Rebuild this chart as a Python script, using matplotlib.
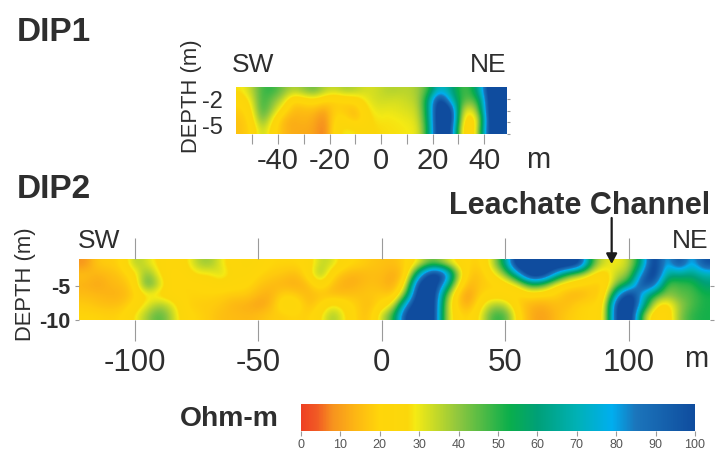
import numpy as np
import matplotlib
matplotlib.use("Agg")
import matplotlib.pyplot as plt
from matplotlib.colors import LinearSegmentedColormap, Normalize
from matplotlib.cm import ScalarMappable

plt.rcParams['font.family'] = ['Liberation Sans', 'DejaVu Sans']
W, H = 715, 454
INK = '#2e2e2e'
GRAY = '#9a9a9a'

# Colour scale
scale_values = [0, 4, 8, 14, 20, 27, 29, 40, 53, 60, 70, 79, 85, 100]
scale_colors = ['#ee4023', '#f15a24', '#f7931e', '#fdb813', '#ffd60a', '#fbd70b', '#f5ea14', '#8dc63f',
                '#0aae4c', '#00a077', '#00b1b5', '#00aeef', '#1b75bb', '#0f4c9e']

# DIP1 resistivity, one list per depth row, columns from -54 m to 46 m every 4 m
dip1_r0 = [28, 35, 48, 50, 42, 36, 40, 45, 36, 34, 38, 36, 32, 33, 36, 36, 35, 38, 48, 75, 65, 48, 48, 70, 120, 120]
dip1_r1 = [22, 30, 50, 42, 34, 18, 22, 24, 20, 18, 20, 22, 30, 33, 33, 32, 34, 36, 60, 115, 75, 50, 42, 55, 120, 120]
dip1_r2 = [18, 26, 50, 38, 24, 14, 15, 15, 10, 20, 17, 14, 26, 31, 30, 31, 32, 34, 60, 120, 115, 40, 26, 50, 120, 120]
dip1_r3 = [16, 22, 45, 28, 14, 12, 14, 12, 6, 22, 22, 14, 24, 29, 28, 29, 30, 32, 58, 120, 120, 35, 18, 38, 120, 120]
dip1_r4 = [16, 20, 36, 24, 14, 12, 12, 11, 4, 24, 30, 28, 26, 27, 28, 28, 29, 30, 55, 120, 110, 30, 14, 45, 120, 95]

# DIP2 resistivity, columns from -120 m to 130 m every 5 m
dip2_r0 = [8, 18, 18, 20, 38, 32, 25, 22, 24, 36,
           40, 30, 22, 28, 24, 20, 20, 20, 22, 35,
           33, 22, 20, 17, 16, 15, 20, 30, 45, 35,
           25, 20, 18, 35, 62, 120, 120, 120, 120, 120,
           105, 45, 32, 28, 35, 60, 115, 70, 105, 72, 100]
dip2_r1 = [16, 13, 15, 17, 24, 44, 27, 20, 21, 28,
           27, 34, 24, 25, 20, 18, 17, 14, 22, 42,
           20, 14, 13, 15, 15, 11, 18, 70, 115, 105,
           42, 16, 16, 26, 40, 72, 120, 115, 75, 45,
           35, 25, 22, 36, 38, 85, 115, 62, 62, 60, 68]
dip2_r2 = [13, 11, 14, 15, 20, 50, 34, 20, 20, 20,
           22, 24, 22, 22, 17, 15, 13, 12, 14, 26,
           15, 12, 13, 16, 14, 11, 28, 110, 120, 80,
           30, 12, 18, 18, 22, 28, 50, 45, 25, 22,
           20, 18, 18, 42, 55, 105, 95, 42, 48, 48, 60]
dip2_r3 = [15, 14, 13, 13, 18, 28, 24, 21, 20, 20,
           20, 19, 18, 18, 14, 12, 20, 18, 14, 16,
           14, 15, 16, 17, 18, 15, 45, 120, 120, 50,
           18, 8, 20, 22, 20, 18, 22, 20, 20, 14,
           13, 18, 18, 75, 115, 75, 50, 40, 45, 46, 52]
dip2_r4 = [18, 16, 15, 16, 22, 30, 38, 32, 20, 18,
           18, 17, 13, 13, 10, 13, 26, 26, 14, 20,
           30, 24, 18, 14, 22, 30, 85, 120, 120, 42,
           18, 10, 26, 38, 35, 18, 13, 12, 15, 15,
           20, 20, 22, 110, 120, 72, 30, 22, 38, 46, 52]
dip2_r5 = [20, 20, 19, 20, 28, 38, 48, 36, 22, 20,
           18, 15, 15, 14, 15, 18, 18, 20, 18, 26,
           40, 28, 18, 15, 35, 50, 110, 120, 120, 40,
           22, 18, 30, 50, 48, 22, 12, 10, 14, 18,
           20, 20, 24, 110, 120, 40, 20, 18, 40, 50, 52]

dip1_xticks = [-50, -40, -30, -20, -10, 0, 10, 20, 30, 40]
dip1_xlabels = ['', '-40', '', '-20', '', '0', '', '20', '', '40']
dip2_xticks = [-100, -50, 0, 50, 100]
cbar_ticks = list(range(0, 101, 10))


def axes_px(x0, y0, x1, y1):
    return fig.add_axes([x0 / W, 1 - y1 / H, (x1 - x0) / W, (y1 - y0) / H])


def label(x, y, s, **kw):
    kw.setdefault('color', INK)
    fig.text(x / W, 1 - y / H, s, **kw)


fig = plt.figure(figsize=(W / 100, H / 100), dpi=100, facecolor='white')
cmap = LinearSegmentedColormap.from_list('ohm', [(v / 100, c) for v, c in zip(scale_values, scale_colors)], N=512)
norm = Normalize(0, 100)

# DIP1
ax1 = axes_px(236, 86.5, 507, 134)
grid1 = np.array([dip1_r0, dip1_r1, dip1_r2, dip1_r3, dip1_r4], float)
ax1.imshow(grid1, cmap=cmap, norm=norm, aspect='auto', extent=(-56.3, 48.9, -5.0, -0.9),
           interpolation='bicubic', interpolation_stage='data')
ax1.set_xlim(-56.3, 48.9)
ax1.set_ylim(-5.0, -0.9)
ax1.set_xticks(dip1_xticks, dip1_xlabels, fontsize=21, color=INK)
ax1.set_yticks([-2, -5], ['-2', '-5'], fontsize=17, color=INK)
ax1.get_yticklabels()[-1].set_va('baseline')
ax1.tick_params(axis='x', length=7.2, width=0.8, color=GRAY, pad=2)
ax1.set_yticks([-3, -4], minor=True)
ax1.tick_params(axis='y', which='both', left=False, right=True, labelleft=True, length=2.5, width=0.8, color=GRAY, pad=7)
for s in ax1.spines.values():
    s.set_visible(False)

# DIP2
ax2 = axes_px(79, 259, 710, 320)
grid2 = np.array([dip2_r0, dip2_r1, dip2_r2, dip2_r3, dip2_r4, dip2_r5], float)
ax2.imshow(grid2, cmap=cmap, norm=norm, aspect='auto', extent=(-122.5, 132.8, -10, -1),
           interpolation='bicubic', interpolation_stage='data')
ax2.set_xlim(-122.6, 132.8)
ax2.set_ylim(-10, -1)
ax2.set_xticks(dip2_xticks, [str(t) for t in dip2_xticks], fontsize=22.5, color=INK)
ax2.set_yticks([-5, -10], ['-5', '-10'], fontsize=15.5, color=INK, fontweight='bold')
ax2.tick_params(axis='x', top=True, length=15, width=0.8, color=GRAY, pad=5)
ax2.tick_params(axis='y', right=True, length=3, width=0.8, color=GRAY, pad=3)
for s in ax2.spines.values():
    s.set_visible(False)
ax2.annotate('', xy=(93, -1.74), xytext=(93, 5.05), xycoords='data', textcoords='data', annotation_clip=False,
             arrowprops=dict(arrowstyle='-|>,head_width=0.32,head_length=0.6', color='#1c1c1c', lw=1.6,
                             shrinkA=0, shrinkB=0))

# Colour bar
cax = axes_px(301, 404, 695, 431)
cb = fig.colorbar(ScalarMappable(norm=norm, cmap=cmap), cax=cax, orientation='horizontal')
cb.set_ticks(cbar_ticks)
cb.ax.tick_params(labelsize=9, length=3.6, width=0.8, color=GRAY, labelcolor='#555555', pad=2.5)
cb.outline.set_visible(False)

# Text
label(17, 41, 'DIP1', fontsize=24, fontweight='bold')
label(17, 198, 'DIP2', fontsize=24, fontweight='bold')
label(232, 72.5, 'SW', fontsize=19)
label(470, 72.5, 'NE', fontsize=19)
label(78, 248, 'SW', fontsize=19)
label(672, 248, 'NE', fontsize=19)
label(449, 214, 'Leachate Channel', fontsize=22, fontweight='bold')
label(180, 426, 'Ohm-m', fontsize=20.3, fontweight='bold')
label(526, 168, 'm', fontsize=21)
label(684, 367, 'm', fontsize=21)
label(191, 96, 'DEPTH (m)', fontsize=15.8, rotation=90, ha='center', va='center')
label(26, 284, 'DEPTH (m)', fontsize=15.8, rotation=90, ha='center', va='center')

fig.savefig('out.png', dpi=100)
